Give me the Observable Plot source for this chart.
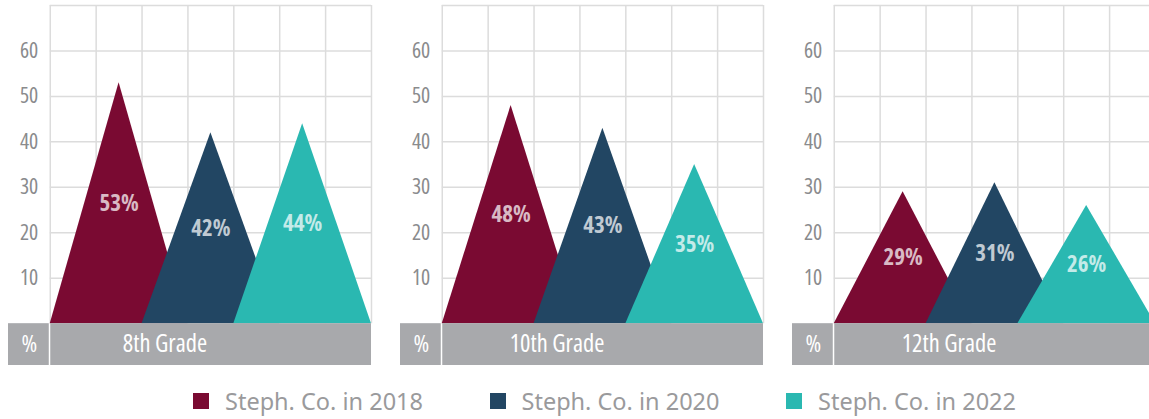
<!DOCTYPE html>
<html>
<head>
<meta charset="utf-8">
<script src="https://cdn.jsdelivr.net/npm/d3@7"></script>
<script src="https://cdn.jsdelivr.net/npm/@observablehq/plot@0.6"></script>
<style>
  html, body { margin: 0; padding: 0; background: #fff; overflow: hidden; width: 1149px; height: 419px; }
  #chart svg { display: block; overflow: hidden; }
  #legend { display: flex; height: 53px; align-items: center; padding-top: 16px; padding-left: 193px; box-sizing: border-box; font-family: "Noto Sans", "Liberation Sans", sans-serif; font-size: 23.5px; color: #9a9a9c; }
  .item { display: flex; align-items: center; width: 296.5px; flex: none; }
  .sw { width: 16px; height: 16px; margin-right: 16px; flex: none; }
  .cond text { font-family: "Open Sans", sans-serif; font-stretch: 75%; }
</style>
</head>
<body>
<div id="chart"></div>
<div id="legend"></div>
<script>
// ---- data ----
const grades = ["8th Grade", "10th Grade", "12th Grade"];
const seriesNames = ["Steph. Co. in 2018", "Steph. Co. in 2020", "Steph. Co. in 2022"];
const values2018 = [53, 48, 29];
const values2020 = [42, 43, 31];
const values2022 = [44, 35, 26];
const yTicks = [10, 20, 30, 40, 50, 60];
const colors = ["#7a0a32", "#224663", "#2ab8b1"];

// ---- derived tables ----
const seriesValues = [values2018, values2020, values2022];
const rows = [];
grades.forEach((g, gi) => seriesNames.forEach((s, si) => rows.push({grade: g, series: s, si, value: seriesValues[si][gi]})));
const tri = [];
rows.forEach(r => {
  const x0 = 2 * r.si;
  tri.push({grade: r.grade, series: r.series, x: x0, y: 0});
  tri.push({grade: r.grade, series: r.series, x: x0 + 1.5, y: r.value});
  tri.push({grade: r.grade, series: r.series, x: x0 + 3, y: 0});
});
const gridX = d3.range(0, 8);
const gridY = [...yTicks, 70];
const BAR = -9.2;
const gridColor = "#dcdcdc";

const chart = Plot.plot({
  width: 1149,
  height: 366,
  marginTop: 5,
  marginBottom: 1,
  marginLeft: 7.3,
  marginRight: -7,
  fx: {domain: grades, paddingInner: 0.075, paddingOuter: 0, axis: null},
  x: {domain: [-0.91, 7], axis: null},
  y: {domain: [BAR, 70], axis: null},
  color: {domain: seriesNames, range: colors},
  style: {background: "transparent"},
  marks: [
    Plot.ruleX(gridX, {x: d => d, y1: () => 0, y2: () => 70, stroke: gridColor, strokeWidth: 1.5}),
    Plot.ruleY(gridY, {y: d => d, x1: () => 0, x2: () => 7, stroke: gridColor, strokeWidth: 1.5}),
    Plot.areaY(tri, {fx: "grade", x: "x", y: "y", z: "series", fill: "series", curve: "linear"}),
    Plot.rect(grades, {fx: d => d, x1: () => -0.91, x2: () => 0, y1: () => BAR, y2: () => 0, fill: "#a8a9ac", insetRight: 1}),
    Plot.rect(grades, {fx: d => d, x1: () => 0, x2: () => 7, y1: () => BAR, y2: () => 0, fill: "#a8a9ac", insetLeft: 0.5}),
    Plot.text(grades, {fx: d => d, x: () => -0.455, y: () => BAR / 2, text: () => "%", fill: "#ffffff", fontSize: 24, className: "cond"}),
    Plot.text(grades, {fx: d => d, x: () => 2.5, y: () => BAR / 2, text: d => d, fill: "#ffffff", fontSize: 24.5, className: "cond"}),
    Plot.text(yTicks, {x: () => 0, y: d => d, dx: -12, text: d => String(d), textAnchor: "end", fill: "#8a8b8d", fontSize: 21.5, className: "cond"}),
    Plot.text(rows, {fx: "grade", x: d => 2 * d.si + 1.5, y: d => d.value / 2, text: d => d.value + "%", fill: "#ffffff", fillOpacity: 0.72, fontSize: 23, fontWeight: "bold", className: "cond"})
  ]
});
document.getElementById("chart").appendChild(chart);

const legend = document.getElementById("legend");
seriesNames.forEach((s, i) => {
  const it = document.createElement("div");
  it.className = "item";
  it.innerHTML = `<span class="sw" style="background:${colors[i]}"></span><span>${s}</span>`;
  legend.appendChild(it);
});
</script>
</body>
</html>
